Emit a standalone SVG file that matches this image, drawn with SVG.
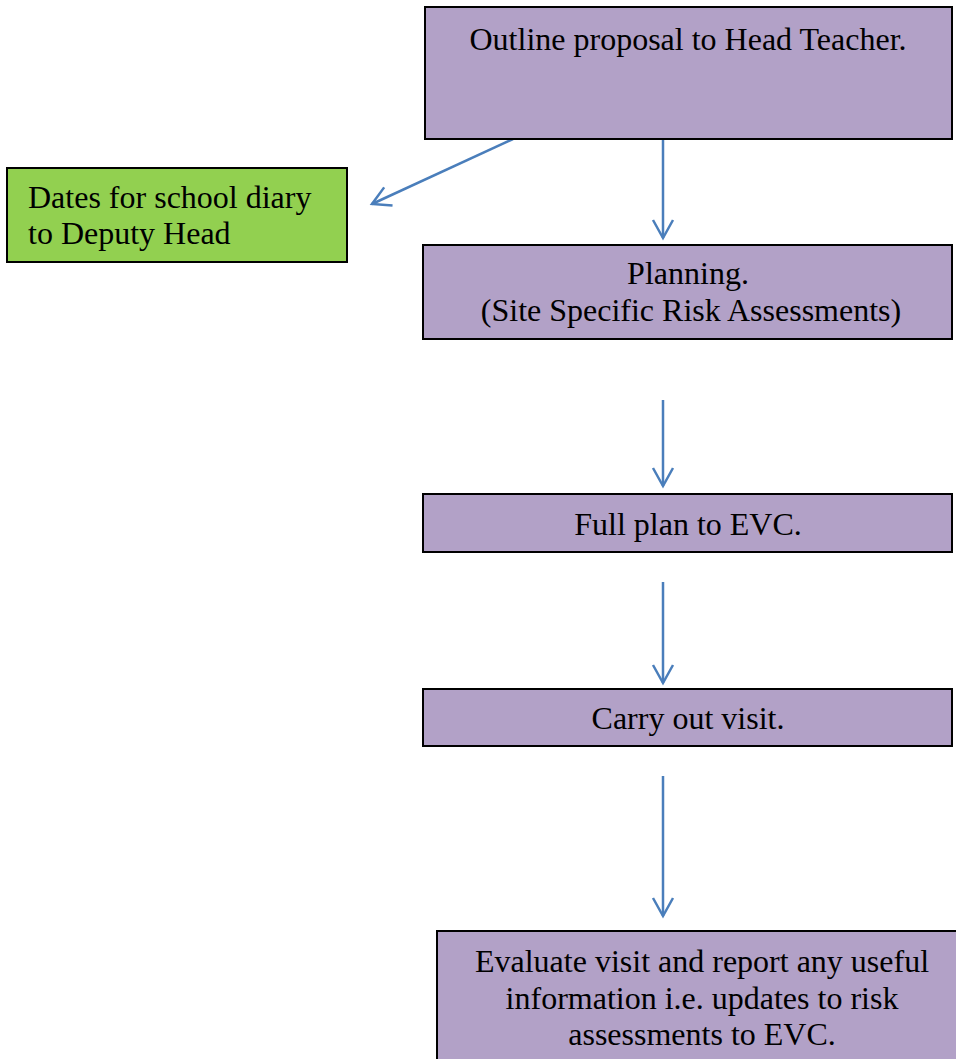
<svg xmlns="http://www.w3.org/2000/svg" width="956" height="1059" viewBox="0 0 956 1059">
<style>
.box{fill:#B2A1C7;stroke:#000;stroke-width:2}
.green{fill:#92D050;stroke:#000;stroke-width:2}
text{font-family:"Liberation Serif","Times New Roman",serif;font-size:32px;fill:#000}
.c{text-anchor:middle}
.conn{stroke:#4A7EBB;stroke-width:2.5;fill:none;marker-end:url(#arr)}
</style>
<defs>
<marker id="arr" markerUnits="userSpaceOnUse" markerWidth="30" markerHeight="30" viewBox="-20 -15 30 30" refX="0" refY="0" orient="auto">
<path d="M-18,-10 L0,0 L-18,10" fill="none" stroke="#4A7EBB" stroke-width="2.5"/>
</marker>
</defs>
<rect width="956" height="1059" fill="#fff"/>
<g id="connectors">
<line class="conn" x1="663" y1="137" x2="663" y2="238"/>
<line class="conn" x1="513" y1="139" x2="372" y2="204"/>
<line class="conn" x1="663" y1="400" x2="663" y2="486"/>
<line class="conn" x1="663" y1="582" x2="663" y2="683"/>
<line class="conn" x1="663" y1="776" x2="663" y2="916"/>
</g>
<g id="n1">
<rect class="box" x="425" y="7" width="527" height="132"/>
<text class="c" x="688" y="50">Outline proposal to Head Teacher.</text>
</g>
<g id="n2">
<rect class="green" x="7" y="168" width="340" height="94"/>
<text x="28" y="208">Dates for school diary</text>
<text x="28" y="244">to Deputy Head</text>
</g>
<g id="n3">
<rect class="box" x="423" y="245" width="529" height="94"/>
<text class="c" x="688" y="284">Planning.</text>
<text class="c" x="691" y="321">(Site Specific Risk Assessments)</text>
</g>
<g id="n4">
<rect class="box" x="423" y="494" width="529" height="58"/>
<text class="c" x="688" y="535">Full plan to EVC.</text>
</g>
<g id="n5">
<rect class="box" x="423" y="689" width="529" height="57"/>
<text class="c" x="688" y="729">Carry out visit.</text>
</g>
<g id="n6">
<rect class="box" x="437" y="931" width="530" height="140"/>
<text class="c" x="702" y="972">Evaluate visit and report any useful</text>
<text class="c" x="702" y="1009">information i.e. updates to risk</text>
<text class="c" x="702" y="1045">assessments to EVC.</text>
</g>
</svg>
